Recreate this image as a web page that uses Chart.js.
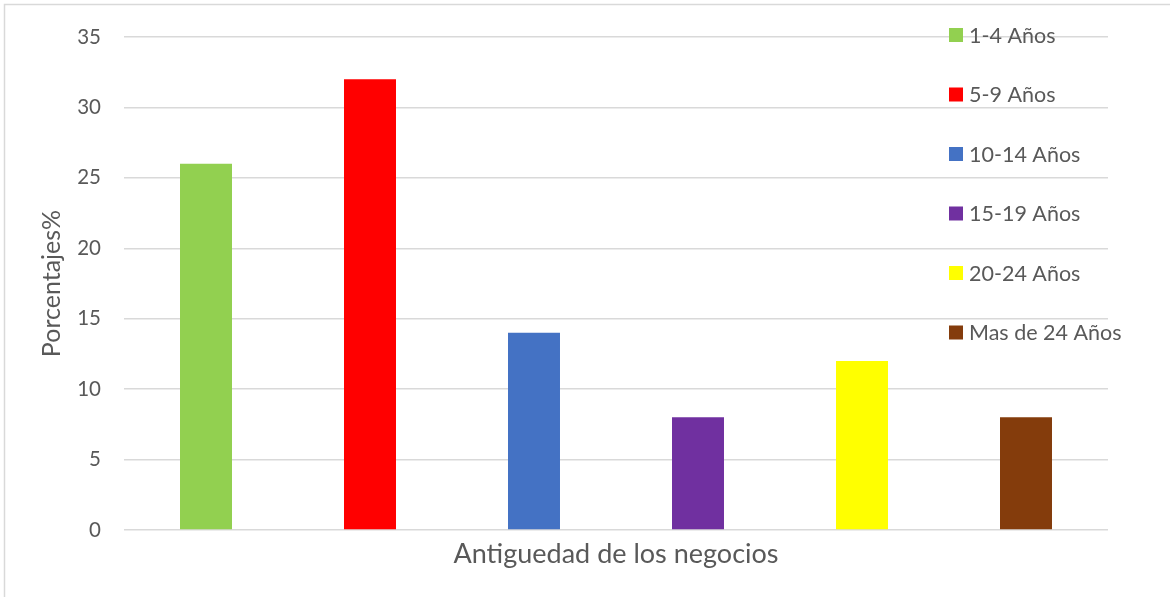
<!DOCTYPE html>
<html>
<head>
<meta charset="utf-8">
<script src="https://cdn.jsdelivr.net/npm/chart.js@4.4.1/dist/chart.umd.min.js"></script>
<style>
    html, body { margin: 0; padding: 0; background: #fff; }
    #wrap { position: relative; width: 1170px; height: 597px; }
</style>
</head>
<body>
<div id="wrap"><canvas id="grafico" width="1170" height="597"></canvas></div>
<script>
// Datos del gráfico
const categorias = ["1-4 Años", "5-9 Años", "10-14 Años", "15-19 Años", "20-24 Años", "Mas de 24 Años"];
const porcentajes = [26, 32, 14, 8, 12, 8];
const colores = ["#92D050", "#FF0000", "#4472C4", "#7030A0", "#FFFF00", "#843C0C"];
const ticksY = [0, 5, 10, 15, 20, 25, 30, 35];

const TEXTO = "#595959";
const FUENTE = "Lato, 'Open Sans', sans-serif";

// Marco gris del área del gráfico
const marco = {
    id: "marco",
    beforeDraw(chart) {
        const ctx = chart.ctx;
        ctx.save();
        ctx.fillStyle = "#fff";
        ctx.fillRect(0, 0, chart.width, chart.height);
        ctx.strokeStyle = "#d9d9d9";
        ctx.lineWidth = 1.5;
        ctx.strokeRect(4.5, 4.5, chart.width + 10, chart.height + 10);
        ctx.restore();
    },
};

// Leyenda vertical dibujada sobre el área del gráfico (como en Excel)
const leyenda = {
    id: "leyenda",
    afterDraw(chart) {
        const ctx = chart.ctx;
        ctx.save();
        ctx.font = "21.5px " + FUENTE;
        ctx.textBaseline = "middle";
        ctx.textAlign = "left";
        categorias.forEach((cat, i) => {
            const y = 35 + i * 59.5;
            ctx.fillStyle = colores[i];
            ctx.fillRect(949, y - 7, 14, 14);
            ctx.fillStyle = TEXTO;
            ctx.fillText(cat, 969, y + 1);
        });
        ctx.restore();
    },
};

new Chart(document.getElementById("grafico"), {
    type: "bar",
    plugins: [marco, leyenda],
    data: {
        labels: categorias,
        datasets: [
            {
                data: porcentajes,
                backgroundColor: colores,
                borderWidth: 0,
                categoryPercentage: 1,
                barPercentage: 0.317,
            },
        ],
    },
    options: {
        responsive: false,
        animation: false,
        layout: {
            padding: { top: 37, right: 62, left: 0, bottom: 0 },
        },
        plugins: {
            legend: { display: false },
            tooltip: { enabled: false },
        },
        scales: {
            x: {
                grid: { display: false },
                border: { display: false },
                ticks: { display: false },
                title: {
                    display: true,
                    text: "Antiguedad de los negocios",
                    color: TEXTO,
                    font: { family: FUENTE, size: 27 },
                    padding: { top: 0, bottom: 27 },
                },
                afterFit: (scale) => { scale.height = 67; },
            },
            y: {
                min: 0,
                max: 35,
                afterBuildTicks: (scale) => {
                    scale.ticks = ticksY.map((v) => ({ value: v }));
                },
                grid: { color: "#d9d9d9", lineWidth: 1.5, drawTicks: false },
                border: { display: false },
                ticks: {
                    color: TEXTO,
                    font: { family: FUENTE, size: 20.5 },
                    padding: 23,
                },
                title: {
                    display: true,
                    text: "Porcentajes%",
                    color: TEXTO,
                    font: { family: FUENTE, size: 25 },
                    padding: { top: 37, bottom: 0 },
                },
                afterFit: (scale) => { scale.width = 124; },
            },
        },
    },
});
</script>
</body>
</html>
